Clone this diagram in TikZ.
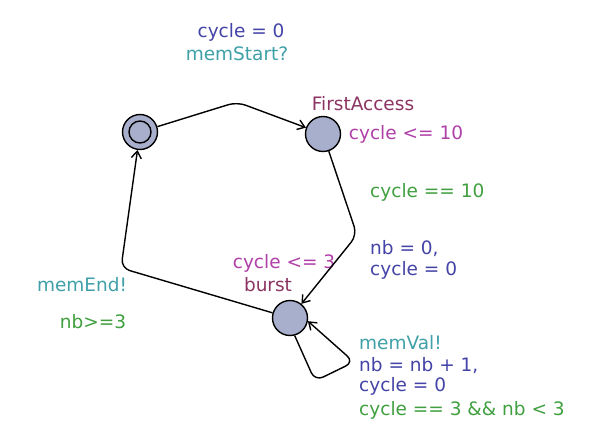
\documentclass[tikz,border=0pt]{standalone}
\usepackage{fontspec}
\setmainfont{DejaVu Sans}
\usetikzlibrary{arrows.meta}

\definecolor{locfill}{HTML}{A8AFCC}
\definecolor{assigncol}{HTML}{4444A8}
\definecolor{synccol}{HTML}{3FA0A8}
\definecolor{namecol}{HTML}{8C3462}
\definecolor{invcol}{HTML}{B040A8}
\definecolor{guardcol}{HTML}{40A040}

\begin{document}
\begin{tikzpicture}[
  x=1pt,
  y=-1pt,
  font=\fontsize{18.5}{20}\selectfont,
  loc/.style={circle, draw, line width=1.4pt, fill=locfill, minimum size=35pt, inner sep=0pt},
  edge/.style={line width=1.4pt, -{Straight Barb[length=7pt,width=10pt]}, rounded corners=9pt},
  assign/.style={text=assigncol, inner sep=1pt},
  sync/.style={text=synccol, inner sep=1pt},
  locname/.style={text=namecol, inner sep=1pt},
  inv/.style={text=invcol, inner sep=1pt},
  guard/.style={text=guardcol, inner sep=1pt}
]

% White background
\fill[white] (0,0) rectangle (602,447);

% Locations
\node[loc] (init) at (140,132) {};
\draw[line width=1.4pt] (init) circle (11pt);
\node[loc] (first) at (323,134) {};
\node[loc] (burst) at (290,318) {};

% Location labels
\node[locname] (firstname) at (363,104) {FirstAccess};
\node[inv] (firstinv) at (406,134) {cycle <= 10};
\node[inv] (burstinv) at (284,263) {cycle <= 3};
\node[locname] (burstname) at (268,285) {burst};

% Edges
\draw[edge] (init) -- (237,102) -- (first);
\draw[edge] (first) -- (357,235) -- (burst);
\draw[edge] (burst) -- (121,268) -- (init);
\coordinate (loopa) at (315,381);
\coordinate (loopb) at (354,362);
\draw[edge] (burst.-75) -- (loopa) -- (loopb) -- (burst.-10);

% Edge labels
\node[assign] (startassign) at (241,32) {cycle = 0};
\node[sync] (startsync) at (237,54) {memStart?};

\node[guard, anchor=west] (accguard) at (369,192) {cycle == 10};
\node[assign, anchor=west] (accassign1) at (369,249) {nb = 0,};
\node[assign, anchor=west] (accassign2) at (369,270) {cycle = 0};

\node[sync] (endsync) at (82,285) {memEnd!};
\node[guard] (endguard) at (93,322) {nb>=3};

\node[sync, anchor=west] (valsync) at (358,343) {memVal!};
\node[assign, anchor=west] (valassign1) at (358,366) {nb = nb + 1,};
\node[assign, anchor=west] (valassign2) at (358,386) {cycle = 0};
\node[guard, anchor=west] (valguard) at (358,410) {cycle == 3 \&\& nb < 3};

\end{tikzpicture}
\end{document}
